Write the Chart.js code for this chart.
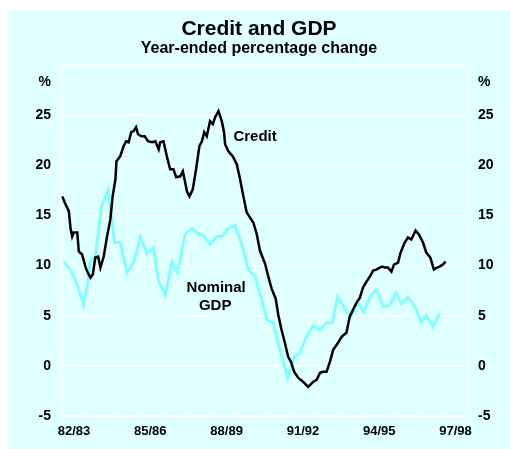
<!DOCTYPE html>
<html>
<head>
<meta charset="utf-8">
<title>Credit and GDP</title>
<script src="https://cdn.jsdelivr.net/npm/chart.js@4.4.1/dist/chart.umd.min.js"></script>
<style>
    html, body { margin: 0; padding: 0; background: #ffffff; }
    #panel {
        position: absolute;
        left: 8px;
        top: 10px;
        width: 502px;
        height: 439px;
        background: #e0ffff;
    }
</style>
</head>
<body>
<div id="panel">
    <canvas id="creditChart" width="502" height="439"></canvas>
</div>
<script>
/* ====================================
   Data
   ==================================== */

// Credit, year-ended % change (x = decimal year)
const creditDates = [
    1982.55, 1982.68, 1982.81, 1982.87, 1982.94, 1983.00, 1983.14, 1983.20, 1983.33, 1983.46,
    1983.53, 1983.66, 1983.75, 1983.85, 1983.96, 1984.05, 1984.18, 1984.31, 1984.44, 1984.53,
    1984.64, 1984.68, 1984.83, 1984.96, 1985.06, 1985.16, 1985.26, 1985.35, 1985.45, 1985.53,
    1985.66, 1985.79, 1985.92, 1986.08, 1986.21, 1986.34, 1986.40, 1986.53, 1986.66, 1986.79,
    1986.92, 1987.03, 1987.19, 1987.29, 1987.38, 1987.45, 1987.55, 1987.68, 1987.81, 1987.94,
    1988.04, 1988.13, 1988.23, 1988.36, 1988.47, 1988.56, 1988.69, 1988.82, 1988.91, 1988.95,
    1989.08, 1989.25, 1989.41, 1989.54, 1989.67, 1989.80, 1989.90, 1990.06, 1990.19, 1990.32,
    1990.52, 1990.65, 1990.78, 1990.94, 1991.04, 1991.17, 1991.30, 1991.43, 1991.54, 1991.67,
    1991.83, 1992.02, 1992.22, 1992.41, 1992.55, 1992.68, 1992.81, 1992.94, 1993.07, 1993.20,
    1993.39, 1993.53, 1993.72, 1993.85, 1993.98, 1994.12, 1994.25, 1994.37, 1994.51, 1994.64,
    1994.77, 1994.90, 1995.03, 1995.14, 1995.23, 1995.35, 1995.49, 1995.59, 1995.75, 1995.85,
    1996.01, 1996.14, 1996.27, 1996.44, 1996.57, 1996.73, 1996.86, 1997.02, 1997.16, 1997.28,
    1997.38, 1997.51, 1997.62
];
const creditValues = [
    16.9, 16.1, 15.4, 13.8, 12.9, 13.3, 13.3, 11.4, 11.1, 9.9,
    9.4, 8.8, 9.1, 10.8, 10.9, 9.8, 10.9, 12.9, 14.6, 16.9,
    18.6, 20.4, 20.9, 21.9, 22.4, 22.3, 23.3, 23.4, 23.8, 23.1,
    22.9, 22.9, 22.4, 22.3, 22.4, 21.6, 22.3, 22.4, 20.9, 19.6,
    19.6, 18.8, 18.9, 19.4, 18.3, 17.4, 16.9, 17.6, 19.6, 21.9,
    22.4, 23.3, 22.9, 24.4, 24.1, 24.8, 25.4, 24.4, 23.3, 22.1,
    21.4, 20.9, 20.1, 18.6, 16.9, 15.3, 14.9, 14.3, 13.2, 11.5,
    10.2, 8.9, 7.7, 6.7, 5.1, 3.6, 2.3, 0.9, 0.4, -0.6,
    -1.2, -1.6, -2.1, -1.6, -1.4, -0.7, -0.6, -0.6, 0.4, 1.6,
    2.3, 2.9, 3.3, 4.9, 5.6, 6.3, 6.8, 7.8, 8.4, 8.9,
    9.5, 9.6, 9.8, 9.9, 9.8, 9.8, 9.4, 10.1, 10.3, 11.3,
    12.3, 12.8, 12.6, 13.5, 13.1, 12.3, 11.3, 10.8, 9.6, 9.8,
    9.9, 10.1, 10.4
];

// Nominal GDP, year-ended % change (quarterly)
const gdpDates = [
    1982.61, 1982.81, 1983.00, 1983.14, 1983.39, 1983.59, 1983.63, 1983.85, 1984.09, 1984.35,
    1984.61, 1984.83, 1985.10, 1985.35, 1985.62, 1985.88, 1986.14, 1986.34, 1986.60, 1986.86,
    1987.08, 1987.38, 1987.65, 1987.90, 1988.10, 1988.36, 1988.63, 1988.82, 1989.08, 1989.34,
    1989.61, 1989.86, 1990.13, 1990.39, 1990.59, 1990.84, 1991.11, 1991.41, 1991.67, 1991.89,
    1992.15, 1992.41, 1992.68, 1992.94, 1993.16, 1993.37, 1993.66, 1993.88, 1994.18, 1994.40,
    1994.66, 1994.90, 1995.16, 1995.42, 1995.66, 1995.88, 1996.14, 1996.40, 1996.66, 1996.86,
    1997.12, 1997.38
];
const gdpValues = [
    10.3, 9.8, 8.9, 8.1, 6.1, 8.9, 10.3, 10.9, 15.9, 17.5,
    12.3, 12.3, 9.3, 10.3, 12.8, 11.2, 11.8, 8.4, 7.1, 10.3,
    9.3, 13.1, 13.7, 13.2, 13.0, 12.1, 12.9, 12.9, 13.7, 14.0,
    12.1, 9.6, 8.9, 6.6, 4.6, 4.3, 1.6, -1.2, 0.9, 1.3,
    2.9, 4.0, 3.6, 4.3, 4.3, 6.9, 5.7, 4.9, 6.3, 5.4,
    6.9, 7.6, 5.9, 6.0, 7.3, 6.2, 6.8, 6.0, 4.4, 5.0,
    3.9, 5.2
];

// Axes
const yTicks = [-5, 0, 5, 10, 15, 20, 25];
const yUnitPos = 28.3;              // where the "%" sits
const xYearStarts = [1982.5, 1983.5, 1984.5, 1985.5, 1986.5, 1987.5, 1988.5, 1989.5,
    1990.5, 1991.5, 1992.5, 1993.5, 1994.5, 1995.5, 1996.5, 1997.5, 1998.5];
const xLabelStarts = [1982.5, 1985.5, 1988.5, 1991.5, 1994.5, 1997.5];
const xLabels = ['82/83', '85/86', '88/89', '91/92', '94/95', '97/98'];

// In-chart series labels
const noteTexts = ['Credit', 'Nominal', 'GDP'];
const noteDates = [1990.13, 1988.6, 1988.56];
const noteValues = [22.8, 7.8, 6.0];

const FONT = 'Liberation Sans, Arial, Helvetica, sans-serif';

/* ====================================
   Plugins
   ==================================== */

// White frame round the plot plus short upward year ticks
const plotFrame = {
    id: 'plotFrame',
    beforeDatasetsDraw(chart) {
        const { ctx, chartArea: a, scales } = chart;
        ctx.save();
        ctx.strokeStyle = '#ffffff';
        ctx.lineWidth = 1.5;
        ctx.strokeRect(a.left, a.top, a.right - a.left, a.bottom - a.top);
        ctx.beginPath();
        xYearStarts.slice(1, -1).forEach(v => {
            const px = Math.round(scales.x.getPixelForValue(v)) + 0.5;
            ctx.moveTo(px, a.bottom);
            ctx.lineTo(px, a.bottom - 6);
        });
        ctx.stroke();
        ctx.restore();
    },
    afterDatasetsDraw(chart) {
        const { ctx, scales } = chart;
        ctx.save();
        ctx.fillStyle = '#000000';
        ctx.font = 'bold 15px ' + FONT;
        ctx.textAlign = 'center';
        ctx.textBaseline = 'middle';
        noteTexts.forEach((t, i) => {
            ctx.fillText(t, scales.x.getPixelForValue(noteDates[i]), scales.y.getPixelForValue(noteValues[i]));
        });
        ctx.restore();
    }
};

/* ====================================
   Chart
   ==================================== */

const toPoints = (xs, ys) => xs.map((x, i) => ({ x: x, y: ys[i] }));

const yTickSetup = scale => {
    scale.ticks = yTicks.concat([yUnitPos]).map(v => ({ value: v }));
};
const yTickLabel = v => (v === yUnitPos ? '%' : v);

new Chart(document.getElementById('creditChart'), {
    type: 'line',
    data: {
        datasets: [
            {
                label: 'Credit',
                data: toPoints(creditDates, creditValues),
                borderColor: '#000000',
                borderWidth: 2.5,
                pointRadius: 0,
                tension: 0
            },
            {
                label: 'Nominal GDP',
                data: toPoints(gdpDates, gdpValues),
                borderColor: '#80ffff',
                borderWidth: 3,
                pointRadius: 0,
                tension: 0
            }
        ]
    },
    options: {
        responsive: false,
        animation: false,
        layout: { padding: 0 },
        plugins: {
            legend: { display: false },
            tooltip: { enabled: false },
            title: {
                display: true,
                text: 'Credit and GDP',
                color: '#000000',
                font: { family: FONT, size: 21, weight: 'bold', lineHeight: 1.0 },
                padding: { top: 9, bottom: 1 }
            },
            subtitle: {
                display: true,
                text: 'Year-ended percentage change',
                color: '#000000',
                font: { family: FONT, size: 16, weight: 'bold', lineHeight: 1.0 },
                padding: { top: 0, bottom: 8 }
            }
        },
        scales: {
            x: {
                type: 'linear',
                min: 1982.5,
                max: 1998.5,
                afterBuildTicks: scale => {
                    scale.ticks = xYearStarts.map(v => ({ value: v }));
                },
                afterFit: scale => { scale.height = 33; },
                ticks: {
                    autoSkip: false,
                    maxRotation: 0,
                    padding: 8,
                    labelOffset: 13,
                    color: '#000000',
                    font: { family: FONT, size: 13, weight: 'bold' },
                    callback: function(value) {
                        const i = xLabelStarts.indexOf(value);
                        return i >= 0 ? xLabels[i] : '';
                    }
                },
                grid: { display: false, drawTicks: false },
                border: { display: false }
            },
            y: {
                position: 'left',
                min: -5,
                max: 30,
                afterBuildTicks: yTickSetup,
                afterFit: scale => { scale.width = 53; },
                ticks: {
                    padding: 10,
                    color: '#000000',
                    font: { family: FONT, size: 14, weight: 'bold' },
                    callback: yTickLabel
                },
                grid: {
                    drawTicks: false,
                    lineWidth: 1.5,
                    color: c => (c.tick && c.tick.value === yUnitPos ? 'rgba(0,0,0,0)' : '#ffffff')
                },
                border: { display: false }
            },
            y2: {
                position: 'right',
                min: -5,
                max: 30,
                afterBuildTicks: yTickSetup,
                afterFit: scale => { scale.width = 42; },
                ticks: {
                    padding: 10,
                    color: '#000000',
                    font: { family: FONT, size: 14, weight: 'bold' },
                    callback: yTickLabel
                },
                grid: { display: false, drawTicks: false },
                border: { display: false }
            }
        }
    },
    plugins: [plotFrame]
});
</script>
</body>
</html>
